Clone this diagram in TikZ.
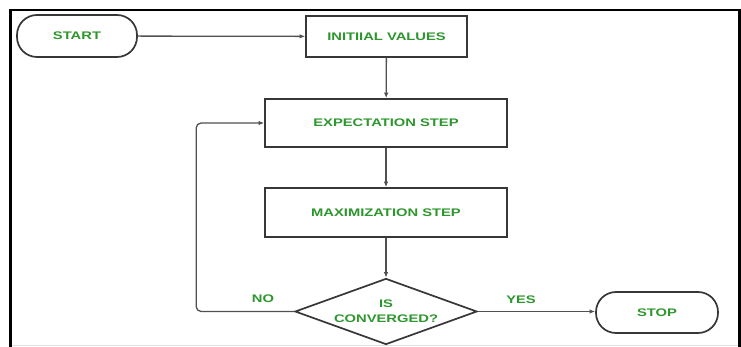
\documentclass[tikz,border=0pt]{standalone}
\usepackage{fontspec}
\setmainfont{Liberation Sans}
\newfontfamily\lblfont[FakeStretch=1.34]{Liberation Sans}
\usetikzlibrary{shapes.geometric,arrows.meta}
\definecolor{lblgreen}{RGB}{45,150,45}
\definecolor{boxgray}{RGB}{55,55,55}
\definecolor{linegray}{RGB}{80,80,80}
\begin{document}
\begin{tikzpicture}[x=1pt,y=-1pt,
  lbl/.style={font=\lblfont\fontsize{11}{15}\selectfont\bfseries, text=lblgreen},
  shapebase/.style={draw=boxgray, line width=1.7pt, fill=white, inner sep=0pt, lbl},
  stepbox/.style={shapebase, rectangle, minimum width=#1},
  terminal/.style={shapebase, rectangle, rounded corners=20pt, minimum width=#1, minimum height=41pt},
  decision/.style={shapebase, diamond, aspect=2.76, minimum width=182pt, minimum height=66pt, align=center},
  conn/.style={draw=linegray, line width=1.3pt, -{Latex[length=5.5pt,width=4.5pt]}}
]
\useasboundingbox (0,0) rectangle (741,347);
\fill[white] (0,0) rectangle (741,347);

% page frame
\draw[black, line width=2.6pt] (10.5,347) -- (10.5,10) -- (739.5,10) -- (739.5,347);
\draw[black!12, line width=0.8pt] (11.5,345.5) -- (738,345.5);

% flowchart nodes
\node[terminal=120pt, minimum height=42pt] (start) at (77,36) {START};
\node[stepbox=161pt, minimum height=41pt] (init) at (386.5,36.5) {INITIIAL VALUES};
\node[stepbox=242pt, minimum height=48pt] (exp) at (386,123) {EXPECTATION STEP};
\node[stepbox=242pt, minimum height=49pt] (max) at (386,212.5) {MAXIMIZATION STEP};
\node[decision] (conv) at (386,311.5) {IS\\CONVERGED?};
\node[terminal=122pt] (stop) at (657,312.5) {STOP};

% branch labels
\node[lbl] (no) at (263,298.5) {NO};
\node[lbl] (yes) at (521,299.5) {YES};

% connectors
\draw[conn] (start) -- (init);
\draw[conn] (init) -- (exp);
\draw[conn] (exp) -- (max);
\draw[conn] (max) -- (conv);
\draw[conn] (conv.east) -- (stop.west |- conv.east);
\coordinate (loopcorner) at ([xshift=-68pt]exp.west);
\draw[conn, rounded corners=5pt] (conv.west) -| (loopcorner) -- (exp.west);
\end{tikzpicture}
\end{document}
